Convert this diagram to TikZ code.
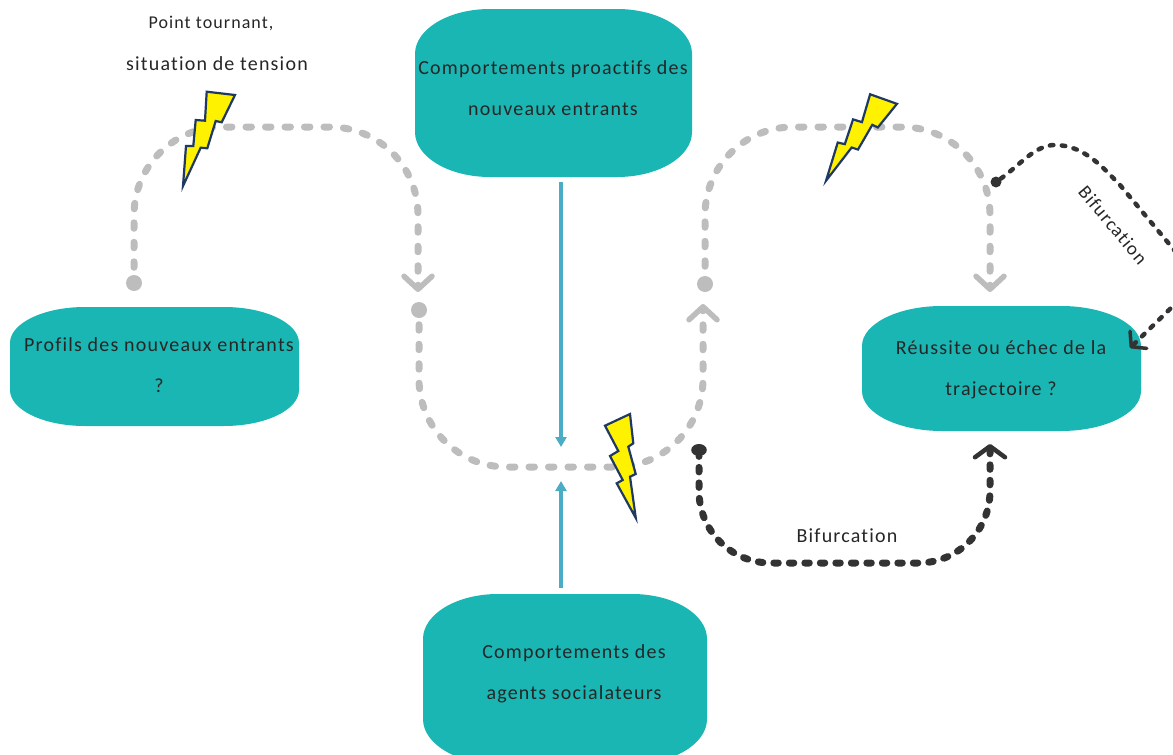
\documentclass[tikz,border=0pt]{standalone}
\usepackage{fontspec}
\setmainfont[LetterSpace=6,Ligatures=NoCommon]{Carlito}
\usetikzlibrary{arrows.meta}
\definecolor{blobteal}{HTML}{1AB6B3}
\definecolor{arrowblue}{HTML}{4BACC6}
\definecolor{lightline}{HTML}{BDBDBD}
\definecolor{darkline}{HTML}{333333}
\definecolor{boltedge}{HTML}{1F3864}
\begin{document}
\begin{tikzpicture}
  [x=1pt,y=-1pt,
   blob/.style n args={4}{minimum width=#1pt,minimum height=#2pt,inner sep=0pt,outer sep=0pt,
     path picture={\fill[blobteal]
       ([yshift=-#4 pt]path picture bounding box.north west)
       arc[start angle=180,end angle=90,x radius=#3 pt,y radius=#4 pt]
       -- ([xshift=-#3 pt]path picture bounding box.north east)
       arc[start angle=90,end angle=0,x radius=#3 pt,y radius=#4 pt]
       -- ([yshift=#4 pt]path picture bounding box.south east)
       arc[start angle=0,end angle=-90,x radius=#3 pt,y radius=#4 pt]
       -- ([xshift=#3 pt]path picture bounding box.south west)
       arc[start angle=-90,end angle=-180,x radius=#3 pt,y radius=#4 pt]
       -- cycle;}}]
  \tikzstyle{txt} = [align=center,inner sep=0pt,text=black!85,font=\fontsize{20}{41}\selectfont]
  \tikzstyle{dot} = [circle,inner sep=0pt,minimum size=16pt,fill=lightline]
  \tikzstyle{darkdot} = [circle,inner sep=0pt,minimum size=11pt,fill=darkline]
  \tikzstyle{lightpath} = [draw=lightline,line width=7pt,line cap=round,dash pattern=on 5.5 off 14,rounded corners=88,
    -{Straight Barb[length=13pt,width=28pt,line width=5.5pt,round]}]
  \tikzstyle{darkpath} = [draw=darkline,line width=7pt,line cap=round,dash pattern=on 4.5 off 11,rounded corners=72,
    -{Straight Barb[length=11pt,width=30pt,line width=4.5pt,round]}]
  \tikzstyle{thinpath} = [draw=darkline,line width=4.5pt,line cap=round,dash pattern=on 3.5 off 8.5,
    -{Straight Barb[length=10pt,width=24pt,line width=3.5pt,round]}]
  \tikzstyle{bluearrow} = [draw=arrowblue,line width=3.5pt,-{Triangle[length=10pt,width=11pt]}]
  \tikzstyle{bolt} = [fill=yellow,draw=boltedge,line width=2.2pt,line join=miter]

  \useasboundingbox (0,0) rectangle (1173,755);

  % blobs
  \node[blob={277}{168}{75}{45}] (proactifs) at (553.5,93) {};
  \node[blob={289}{119}{75}{36}] (profils) at (154.5,366.5) {};
  \node[blob={279}{125}{80}{40}] (reussite) at (1001.5,368.5) {};
  \node[blob={284}{170}{75}{45}] (agents) at (565,679) {};

  \node[txt] (proactifsText) at (553,88.5) {Comportements proactifs des\\nouveaux entrants};
  \node[txt] (profilsText) at (159,365.5) {Profils des nouveaux entrants\\?};
  \node[txt] (reussiteText) at (1001,369.5) {Réussite ou échec de la\\trajectoire ?};
  \node[txt] (agentsText) at (574,673.5) {Comportements des\\agents socialateurs};

  % free labels
  \node[txt,font=\fontsize{18}{41}\selectfont] (pointText) at (211,23) {Point tournant,};
  \node[txt] (tensionText) at (217,64) {situation de tension};
  \node[txt] (bifLow) at (847,536) {Bifurcation};
  \node[txt,rotate=-50,font=\fontsize{19}{41}\selectfont] (bifHigh) at (1113,225) {Bifurcation};

  % ends of the loops
  \node[dot] (d1) at (134,283) {};
  \node[dot] (d2) at (419,310) {};
  \node[dot] (d3) at (705,284) {};
  \node[darkdot,minimum size=12pt,xscale=1.3] (d4) at (699,450) {};
  \node[darkdot] (d5) at (996,182) {};

  \coordinate (t1) at (418,292);
  \coordinate (t2) at (703,304);
  \coordinate (t3) at (990,292);
  \coordinate (t4) at (990,444);
  \coordinate (t5) at (1130,348);
  \coordinate (k1) at (280,127);
  \coordinate (k2) at (560,467);
  \coordinate (k3) at (850,127);
  \coordinate (k4) at (850,563);
  \coordinate (m1) at (561,447);
  \coordinate (m2) at (561,481);

  % dash phase leaves a gap before each chevron
  \draw[lightpath,dash phase=12] (d1) -- (d1 |- k1) -- (t1 |- k1) -- (t1);
  \draw[lightpath,dash phase=13] (d2) -- (d2 |- k2) -- (t2 |- k2) -- (t2);
  \draw[lightpath,dash phase=10] (d3) -- (d3 |- k3) -- (t3 |- k3) -- (t3);
  \draw[darkpath,dash phase=4.3] (d4) -- (d4 |- k4) -- (t4 |- k4) -- (t4);
  \draw[thinpath] (d5) .. controls (1020,165) and (1035,145) .. (1055,145)
    .. controls (1085,145) and (1105,170) .. (1120,185) -- (1170,245)
    .. controls (1195,275) and (1200,285) .. (1172,307) -- (t5);

  \draw[bluearrow,shorten <=5pt] (m1 |- proactifs.south) -- (m1);
  \draw[bluearrow,shorten <=6pt] (m2 |- agents.north) -- (m2);

  % lightning
  \draw[bolt] (206.7,91.7) -- (235,95) -- (221.7,122.3) -- (215.7,121) -- (207.3,148.3) -- (200.7,147.7)
    -- (183,186) -- (186,146) -- (193.3,146) -- (195.7,120) -- (205,120.7) -- cycle;
  \draw[bolt,shift={(825,183)},rotate=-13] (24,-96.6) -- (52.3,-93.3) -- (39,-66) -- (33,-67.3) -- (24.6,-40) -- (18,-40.6)
    -- (0.5,-2.5) -- (3.3,-42.3) -- (10.6,-42.3) -- (13,-68.3) -- (22.3,-67.6) -- cycle;
  \draw[bolt] (630,414) -- (633.3,443.3) -- (628.3,446.7) -- (635.7,474) -- (630,476.7) -- (635.8,518)
    -- (616.7,483.3) -- (622.7,480) -- (610,456) -- (618.3,451) -- (605,425.7) -- cycle;
\end{tikzpicture}
\end{document}
